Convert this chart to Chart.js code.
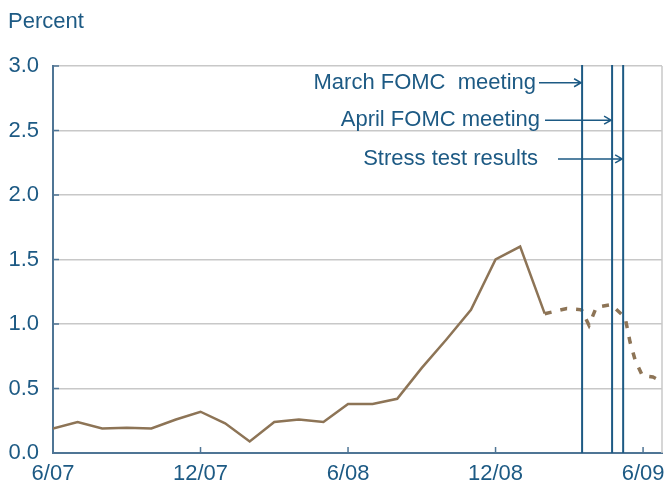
<!DOCTYPE html>
<html>
<head>
<meta charset="utf-8">
<script src="https://cdn.jsdelivr.net/npm/chart.js@4"></script>
<style>
  html, body { margin: 0; padding: 0; background: #fff; }
  #wrap { width: 666px; height: 487px; position: relative; }
</style>
</head>
<body>
<div id="wrap"><canvas id="chart"></canvas></div>
<script>
// months since June 2007
const tickMonths = [0, 6, 12, 18, 24];
const tickLabels = ["6/07", "12/07", "6/08", "12/08", "6/09"];

// monthly series, 6/07 .. 2/09
const solidValues = [0.19, 0.24, 0.19, 0.195, 0.19, 0.26, 0.32, 0.23, 0.09, 0.24, 0.26, 0.24,
  0.38, 0.38, 0.42, 0.66, 0.88, 1.11, 1.5, 1.6, 1.08];

// later readings (dotted)
const dashedMonths = [20.0, 20.9, 21.5, 21.8, 22.1, 22.7, 23.27, 23.47, 23.68, 23.97, 24.4, 24.8];
const dashedValues = [1.08, 1.12, 1.11, 0.99, 1.13, 1.15, 1.05, 0.86, 0.72, 0.60, 0.59, 0.55];

// events
const eventMonths = [21.52, 22.74, 23.19];
const eventLabels = ["March FOMC  meeting", "April FOMC meeting", "Stress test results"];
const eventArrowY = [2.87, 2.58, 2.28];

const blue = "#1d5a84";
const brown = "#8d7456";
const font = "Liberation Sans, Arial, sans-serif";

const solidData = solidValues.map((v, i) => ({ x: i, y: v }));
const dashedData = dashedMonths.map((m, i) => ({ x: m, y: dashedValues[i] }));

const extras = {
  id: "extras",
  beforeDatasetsDraw(chart) {
    const { ctx, chartArea } = chart;
    const x = chart.scales.x, y = chart.scales.y;
    ctx.save();
    // right frame
    ctx.strokeStyle = "#c8c8c8";
    ctx.lineWidth = 1.5;
    ctx.beginPath();
    ctx.moveTo(chartArea.right, chartArea.top);
    ctx.lineTo(chartArea.right, chartArea.bottom);
    ctx.stroke();
    // inside tick marks
    ctx.strokeStyle = "#4f7595";
    ctx.lineWidth = 1.5;
    for (let v = 0.5; v <= 3; v += 0.5) {
      const py = y.getPixelForValue(v);
      ctx.beginPath();
      ctx.moveTo(chartArea.left, py);
      ctx.lineTo(chartArea.left + 6, py);
      ctx.stroke();
    }
    tickMonths.slice(1).forEach(m => {
      const px = x.getPixelForValue(m);
      ctx.beginPath();
      ctx.moveTo(px, chartArea.bottom);
      ctx.lineTo(px, chartArea.bottom - 6);
      ctx.stroke();
    });
    ctx.restore();
  },
  afterDatasetsDraw(chart) {
    const { ctx, chartArea } = chart;
    const x = chart.scales.x, y = chart.scales.y;
    ctx.save();
    ctx.strokeStyle = blue;
    ctx.lineWidth = 2;
    eventMonths.forEach(m => {
      const px = x.getPixelForValue(m);
      ctx.beginPath();
      ctx.moveTo(px, chartArea.top - 1);
      ctx.lineTo(px, chartArea.bottom);
      ctx.stroke();
    });

    const textRight = [536, 540, 538];
    const arrowStart = [539, 545, 558];
    ctx.font = "22px " + font;
    ctx.fillStyle = blue;
    ctx.textAlign = "right";
    ctx.textBaseline = "middle";
    ctx.lineWidth = 1.5;
    eventLabels.forEach((t, i) => {
      const py = y.getPixelForValue(eventArrowY[i]);
      ctx.fillText(t, textRight[i], py);
      const end = x.getPixelForValue(eventMonths[i]) - 1;
      ctx.beginPath();
      ctx.moveTo(arrowStart[i], py);
      ctx.lineTo(end, py);
      ctx.moveTo(end - 7, py - 4);
      ctx.lineTo(end, py);
      ctx.lineTo(end - 7, py + 4);
      ctx.stroke();
    });

    ctx.textAlign = "left";
    ctx.fillText("Percent", 8, 22);
    ctx.restore();
  }
};

new Chart(document.getElementById("chart"), {
  type: "line",
  data: {
    datasets: [
      {
        data: solidData,
        borderColor: brown,
        borderWidth: 2.5,
        pointRadius: 0,
        tension: 0,
      },
      {
        data: dashedData,
        borderColor: brown,
        borderWidth: 3.5,
        borderDash: [7, 9],
        pointRadius: 0,
        tension: 0,
      },
    ],
  },
  options: {
    responsive: true,
    maintainAspectRatio: false,
    animation: false,
    layout: { padding: { top: 66, right: 4, left: 0, bottom: 0 } },
    plugins: {
      legend: { display: false },
      tooltip: { enabled: false },
    },
    scales: {
      x: {
        type: "linear",
        min: 0,
        max: 24.77,
        afterBuildTicks: s => { s.ticks = tickMonths.map(v => ({ value: v })); },
        afterFit: s => { s.height = 34; s.paddingLeft = 0; s.paddingRight = 0; },
        grid: { color: "transparent", drawTicks: false },
        border: { color: "#4f7595", width: 2 },
        ticks: {
          color: blue,
          font: { family: font, size: 22 },
          padding: 8,
          maxRotation: 0,
          autoSkip: false,
          callback: (v) => tickLabels[tickMonths.indexOf(v)] ?? "",
        },
      },
      y: {
        min: 0,
        max: 3,
        afterFit: s => { s.width = 53; s.paddingTop = 0; s.paddingBottom = 0; },
        grid: { color: "#c8c8c8", lineWidth: 1.5, drawTicks: false },
        border: { color: "#4f7595", width: 2 },
        ticks: {
          stepSize: 0.5,
          color: blue,
          font: { family: font, size: 22 },
          padding: 14,
          callback: v => v.toFixed(1),
        },
      },
    },
  },
  plugins: [extras],
});
</script>
</body>
</html>
